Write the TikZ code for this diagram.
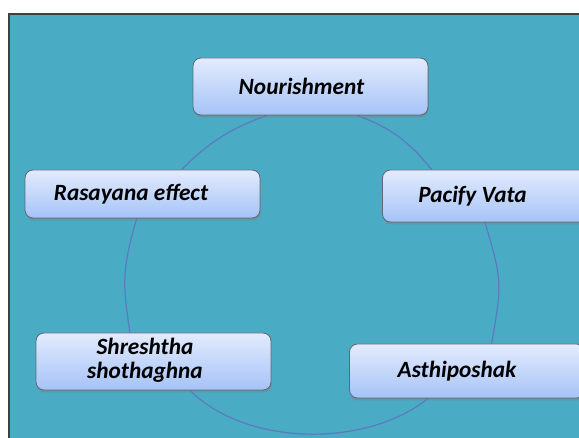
\documentclass[tikz,border=0pt]{standalone}
\usepackage{fontspec}
\setmainfont{Carlito}
\usetikzlibrary{shadows,calc}
\definecolor{bgteal}{HTML}{4AABC4}
\definecolor{framec}{HTML}{404040}
\definecolor{boxtop}{HTML}{E3EBFD}
\definecolor{boxbot}{HTML}{A5C3F7}
\definecolor{boxline}{HTML}{5E6878}
\definecolor{linkc}{HTML}{5B7BC0}
\pgfdeclarelayer{back}
\pgfdeclarelayer{mid}
\pgfsetlayers{back,mid,main}
\begin{document}
\begin{tikzpicture}[x=1pt,y=1pt,
  box/.style={draw=boxline, line width=0.8pt, rounded corners=8pt,
    top color=boxtop, bottom color=boxbot, minimum width=235pt, inner sep=0pt,
    drop shadow={shadow xshift=0.8pt, shadow yshift=-2.5pt, opacity=0.5},
    font=\fontsize{23.3}{24}\selectfont\bfseries\itshape},
  link/.style={draw=linkc, line width=1.2pt}]
\useasboundingbox (0,0) rectangle (579,-438);
\begin{pgfonlayer}{back}
\fill[white] (0,0) rectangle (579,-438);
\fill[bgteal] (9,-14) rectangle (590,-445);
\draw[framec, line width=1.5pt] (9,-445) -- (9,-14) -- (590,-14);
\end{pgfonlayer}

\node[box, minimum height=57pt] (nour) at (310.5,-86.5) {Nourishment\hspace*{18pt}\null};
\node[box, minimum height=48pt] (ras) at (142.5,-194) {\raisebox{-3pt}{Rasayana effect}\hspace*{23pt}\null};
\node[box, minimum height=52pt] (pac) at (500,-196) {\raisebox{-3pt}{Pacify Vata}\hspace*{55pt}\null};
\node[box, minimum height=57pt] (shr) at (153.5,-361.5) {\begin{tabular}{@{}c@{}}Shreshtha\\shothaghna\end{tabular}\hspace*{17pt}\null};
\node[box, minimum height=54pt] (ast) at (467,-371) {\raisebox{-2pt}{Asthiposhak}\hspace*{20pt}\null};

\begin{pgfonlayer}{mid}
\draw[link] ([xshift=46.5pt]nour.south) to[out=-20,in=129] ([xshift=-68.3pt]pac.north);
\draw[link] ([xshift=-15pt]pac.south) to[out=-73.5,in=80.5,looseness=1.3] ([xshift=24.7pt]ast.north);
\draw[link] ([xshift=-39pt]ast.south) to[out=219,in=-45,looseness=0.85] ([xshift=36.5pt]shr.south);
\draw[link] ([xshift=-23.5pt]shr.north) to[out=99,in=254,looseness=1.15] ([xshift=-5.8pt]ras.south);
\draw[link] ([xshift=39.2pt]ras.north) to[out=45,in=200] ([xshift=-43.5pt]nour.south);
\end{pgfonlayer}
\end{tikzpicture}
\end{document}
